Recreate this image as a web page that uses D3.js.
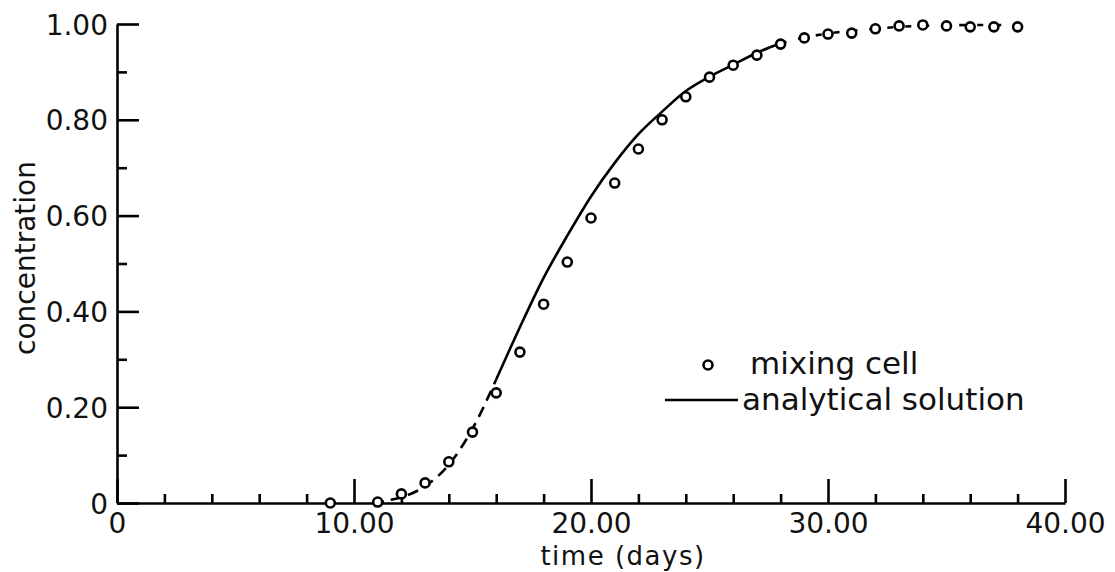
<!DOCTYPE html>
<html>
<head>
<meta charset="utf-8">
<script src="https://cdn.jsdelivr.net/npm/d3@7"></script>
<style>
  body { margin: 0; background: #fff; }
  svg { display: block; font-family: 'DejaVu Sans', sans-serif; }
</style>
</head>
<body>
<div id="vis"></div>
<script>
// mixing cell results (days, concentration)
const cellDays = [9, 11, 12, 13, 14, 15, 16, 17, 18, 19, 20, 21, 22, 23, 24, 25, 26, 27, 28, 29, 30, 31, 32, 33, 34, 35, 36, 37, 38];
const cellConc = [0, 0.002, 0.019, 0.042, 0.086, 0.148, 0.23, 0.315, 0.415, 0.503, 0.595, 0.668, 0.739, 0.80, 0.848, 0.889, 0.914, 0.935, 0.958, 0.971, 0.979, 0.981, 0.99, 0.996, 0.998, 0.996, 0.994, 0.994, 0.994];

// analytical solution
const solDays = [10.8, 11.5, 12, 13, 14, 15, 16, 17, 18, 19, 20, 21, 22, 23, 24, 25, 26, 27, 28, 29, 30, 31, 32, 33, 34, 35, 36, 37, 38];
const solConc = [0, 0.006, 0.012, 0.035, 0.08, 0.155, 0.258, 0.367, 0.47, 0.558, 0.64, 0.71, 0.77, 0.817, 0.86, 0.89, 0.915, 0.94, 0.96, 0.972, 0.98, 0.986, 0.99, 0.994, 0.996, 0.997, 0.998, 0.998, 0.998];

const xMajor = [0, 10, 20, 30, 40];
const xMinor = [2, 4, 6, 8, 12, 14, 16, 18, 22, 24, 26, 28, 32, 34, 36, 38];
const yMajor = [0, 0.2, 0.4, 0.6, 0.8, 1.0];
const yMinor = [0.1, 0.3, 0.5, 0.7, 0.9];

const W = 1115, H = 572;
const svg = d3.select('#vis').append('svg').attr('width', W).attr('height', H);

const x = d3.scaleLinear().domain([0, 40]).range([117, 1065]);
const y = d3.scaleLinear().domain([0, 1]).range([503, 24]);

const fmt = d => d === 0 ? '0' : d3.format('.2f')(d);

// y axis, ticks pointing inward
const gy = svg.append('g').attr('transform', `translate(${x(0)},0)`)
  .call(d3.axisLeft(y).tickValues(yMajor).tickFormat(fmt).tickSizeInner(-22).tickSizeOuter(0).tickPadding(9));
svg.append('g').attr('transform', `translate(${x(0)},0)`)
  .call(d3.axisLeft(y).tickValues(yMinor).tickFormat('').tickSizeInner(-10).tickSizeOuter(0))
  .select('.domain').remove();

// x axis
const gx = svg.append('g').attr('transform', `translate(0,${y(0)})`)
  .call(d3.axisBottom(x).tickValues(xMajor).tickFormat(fmt).tickSizeInner(-24).tickSizeOuter(0).tickPadding(10));
svg.append('g').attr('transform', `translate(0,${y(0)})`)
  .call(d3.axisBottom(x).tickValues(xMinor).tickFormat('').tickSizeInner(-9).tickSizeOuter(0))
  .select('.domain').remove();

svg.selectAll('.domain, .tick line').attr('stroke', '#000').attr('stroke-width', 2.6);
svg.selectAll('.tick text').attr('font-size', 28).attr('font-family', 'DejaVu Sans').attr('fill', '#111');
gy.selectAll('.tick text').attr('dy', '0.36em');
gx.selectAll('.tick text').attr('dy', '0.71em');

// axis titles
svg.append('text')
  .attr('x', 623).attr('y', 565)
  .attr('text-anchor', 'middle')
  .attr('font-size', 26)
  .attr('letter-spacing', 1.5)
  .attr('fill', '#111')
  .text('time (days)');

svg.append('text')
  .attr('transform', 'translate(35,258) rotate(-90)')
  .attr('text-anchor', 'middle')
  .attr('font-size', 28)
  .attr('fill', '#111')
  .text('concentration');

// analytical solution, drawn in pieces like the original plot
const sol = solDays.map((d, i) => ({ t: d, c: solConc[i] }));
const line = d3.line().x(d => x(d.t)).y(d => y(d.c)).curve(d3.curveMonotoneX);

const pieces = [
  { data: sol.filter(d => d.t <= 16), dash: '11,7' },
  { data: sol.filter(d => d.t >= 16 && d.t <= 28), dash: null },
  { data: sol.filter(d => d.t >= 28), dash: '6,12' }
];
pieces.forEach(p => {
  svg.append('path')
    .attr('d', line(p.data))
    .attr('fill', 'none')
    .attr('stroke', '#000')
    .attr('stroke-width', 2.6)
    .attr('stroke-dasharray', p.dash);
});

// mixing cell points
svg.append('g').selectAll('circle')
  .data(cellDays.map((d, i) => ({ t: d, c: cellConc[i] })))
  .enter().append('circle')
  .attr('cx', d => x(d.t))
  .attr('cy', d => y(d.c))
  .attr('r', 4.5)
  .attr('fill', '#fff')
  .attr('stroke', '#000')
  .attr('stroke-width', 2.6);

// legend
const lg = svg.append('g');
lg.append('circle').attr('cx', 708).attr('cy', 365).attr('r', 4.5)
  .attr('fill', '#fff').attr('stroke', '#000').attr('stroke-width', 2.6);
lg.append('text').attr('x', 750).attr('y', 374).attr('font-size', 31).attr('fill', '#111').text('mixing cell');
lg.append('line').attr('x1', 665).attr('x2', 738).attr('y1', 400).attr('y2', 400)
  .attr('stroke', '#000').attr('stroke-width', 2.6);
lg.append('text').attr('x', 742).attr('y', 410).attr('font-size', 31).attr('fill', '#111').text('analytical solution');
</script>
</body>
</html>
